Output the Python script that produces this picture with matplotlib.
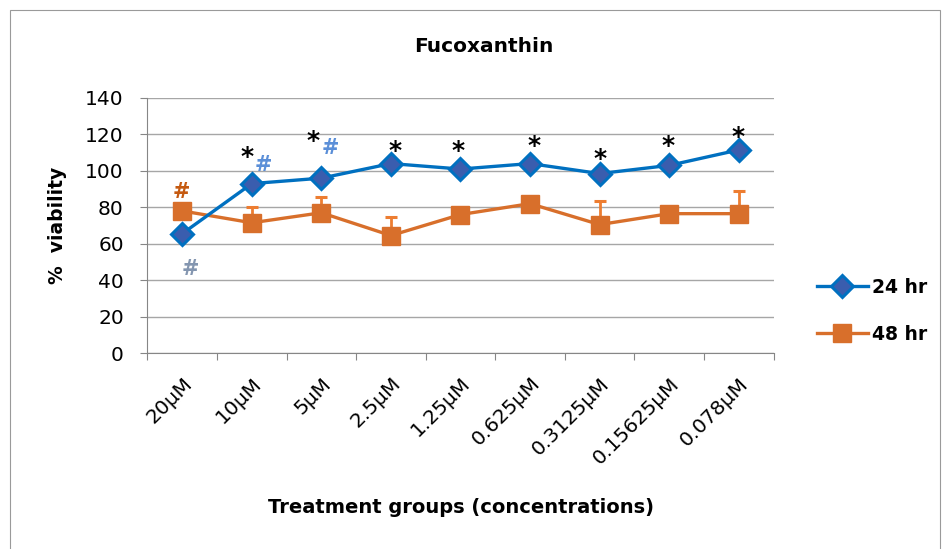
import numpy as np
import matplotlib.pyplot as plt
from matplotlib.patches import Rectangle
from matplotlib.transforms import ScaledTranslation

plt.rcParams['font.family'] = ['DejaVu Sans']

concentrations = ['20µM', '10µM', '5µM', '2.5µM', '1.25µM', '0.625µM',
                  '0.3125µM', '0.15625µM', '0.078µM']
viab_24 = [65.5, 93, 96, 104, 101, 104, 98.5, 103, 111.5]
err_24 = [2, 2, 2, 2, 2, 2, 3, 2, 2]
viab_48 = [78, 71.5, 77, 64.5, 76, 82, 70.5, 76.5, 76.5]
err_48 = [1, 8.5, 8.5, 10, 1, 2, 13, 2, 12.5]

# significance marks: (category index, y value, text, colour, x offset)
marks = [
    (1, 107.8, '*', 'black', -0.07), (1, 103, '#', '#5B8FD8', 0.16),
    (2, 116.6, '*', 'black', -0.12), (2, 112.3, '#', '#5B8FD8', 0.13),
    (3, 111.1, '*', 'black', 0.06), (4, 111.1, '*', 'black', -0.03),
    (5, 113.9, '*', 'black', 0.06), (6, 106.7, '*', 'black', 0.0),
    (7, 113.9, '*', 'black', -0.02), (8, 118.8, '*', 'black', -0.01),
    (0, 88.5, '#', '#C55A11', -0.01), (0, 46, '#', '#8496B0', 0.11),
]

fig = plt.figure(figsize=(9.48, 5.49), dpi=100)
fig.patches.append(Rectangle((0.011, -0.01), 0.981, 0.992, transform=fig.transFigure,
                             fill=False, edgecolor='#9A9A9A', linewidth=0.8))
ax = fig.add_axes([0.1555, 0.357, 0.6605, 0.4645])

x = np.arange(len(concentrations))
ax.errorbar(x, viab_24, yerr=err_24, fmt='none', ecolor='#222222', elinewidth=1,
            capsize=3.5, capthick=1, zorder=3)
ax.errorbar(x, viab_48, yerr=[np.zeros(len(err_48)), err_48], fmt='none',
            ecolor='#ED7D31', elinewidth=2, capsize=4.3, capthick=2.2, zorder=2)
ax.plot(x, viab_24, color='#0070C0', lw=2.4, marker='D', ms=11.5, mfc='#3A5DAE',
        mec='#0070C0', mew=2.2, label='24 hr', zorder=4)
ax.plot(x, viab_48, color='#D86F2B', lw=2.4, marker='s', ms=12.5, mfc='#D86F2B',
        mec='#D86F2B', label='48 hr', zorder=3)

for i, yv, txt, col, dx in marks:
    ax.text(i + dx, yv, txt, color=col, fontsize=18 if txt == '*' else 15,
            fontweight='bold', ha='center', va='center', zorder=5)

ax.set_ylim(0, 140)
ax.set_yticks(range(0, 141, 20))
ax.set_xlim(-0.5, len(concentrations) - 0.5)
ax.set_xticks(np.arange(len(concentrations) + 1) - 0.5)
ax.set_xticklabels([])
ax.set_xticks(x, minor=True)
ax.set_xticklabels(concentrations, minor=True, rotation=45, ha='right',
                   rotation_mode='anchor', fontsize=14.5)
shift = ScaledTranslation(-0.06, 0, fig.dpi_scale_trans)
for lab in ax.get_xticklabels(minor=True):
    lab.set_transform(lab.get_transform() + shift)
ax.tick_params(axis='x', which='minor', length=0, pad=15)
ax.tick_params(axis='x', which='major', length=5, color='#868686')
ax.tick_params(axis='y', length=5, color='#868686', labelsize=14.5, pad=12)
ax.grid(axis='y', color='#A6A6A6', lw=1)
ax.set_axisbelow(True)
for s in ['top', 'right']:
    ax.spines[s].set_visible(False)
for s in ['left', 'bottom']:
    ax.spines[s].set_color('#868686')

fig.text(0.51, 0.915, 'Fucoxanthin', ha='center', va='center',
         fontsize=14.5, fontweight='bold')
fig.text(0.061, 0.59, '%  viability', ha='center', va='center', rotation=90,
         fontsize=13.5, fontweight='bold')
fig.text(0.486, 0.0765, 'Treatment groups (concentrations)', ha='center',
         va='center', fontsize=14, fontweight='bold')

handles, labels = ax.get_legend_handles_labels()
fig.legend(handles, labels, loc='center left', bbox_to_anchor=(0.844, 0.434),
           frameon=False, prop={'weight': 'bold', 'size': 13.5}, labelspacing=1.5,
           handlelength=2.7, handletextpad=0.25)

fig.savefig('out.png', dpi=100)
